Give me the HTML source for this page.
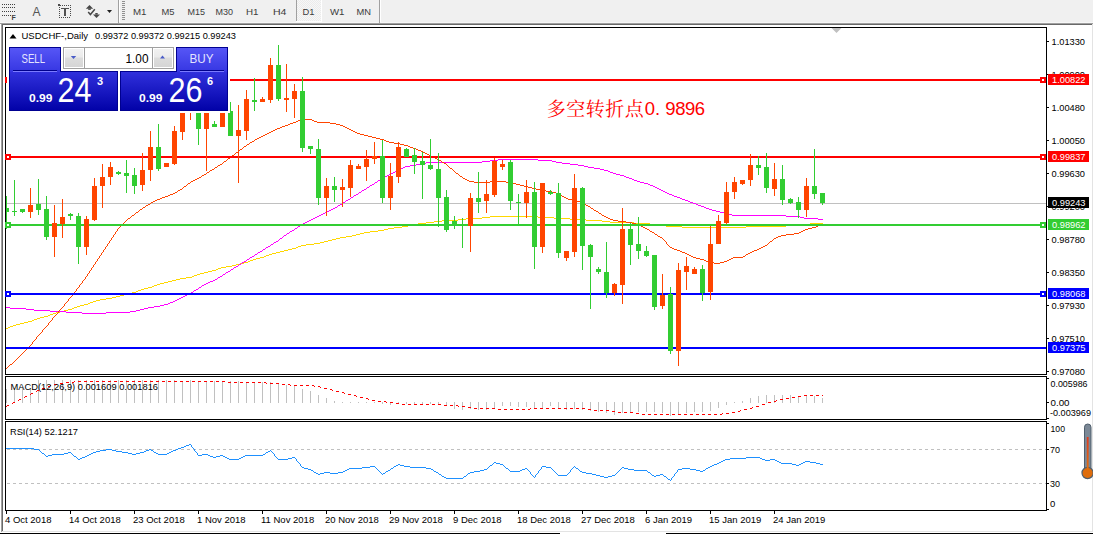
<!DOCTYPE html>
<html><head><meta charset="utf-8"><title>USDCHF Daily</title>
<style>html,body{margin:0;padding:0;background:#fff;width:1093px;height:534px;overflow:hidden}svg{display:block}</style>
</head><body>
<svg width="1093" height="534" viewBox="0 0 1093 534"><rect x="0" y="0" width="1093" height="23" fill="#f0f0f0"/><g fill="#404040"><rect x="2" y="4" width="1" height="1"/><rect x="4" y="4" width="1" height="1"/><rect x="6" y="4" width="1" height="1"/><rect x="8" y="4" width="1" height="1"/><rect x="10" y="4" width="1" height="1"/><rect x="12" y="4" width="1" height="1"/><rect x="14" y="4" width="1" height="1"/><rect x="2" y="7" width="1" height="1"/><rect x="4" y="7" width="1" height="1"/><rect x="6" y="7" width="1" height="1"/><rect x="8" y="7" width="1" height="1"/><rect x="10" y="7" width="1" height="1"/><rect x="12" y="7" width="1" height="1"/><rect x="14" y="7" width="1" height="1"/><rect x="2" y="11" width="1" height="1"/><rect x="4" y="11" width="1" height="1"/><rect x="6" y="11" width="1" height="1"/><rect x="8" y="11" width="1" height="1"/><rect x="10" y="11" width="1" height="1"/><rect x="12" y="11" width="1" height="1"/><rect x="14" y="11" width="1" height="1"/><rect x="2" y="15" width="1" height="1"/><rect x="4" y="15" width="1" height="1"/><rect x="6" y="15" width="1" height="1"/><rect x="8" y="15" width="1" height="1"/><rect x="10" y="15" width="1" height="1"/></g><text x="11.5" y="19.5" style="font-family:'Liberation Sans',Arial,sans-serif;font-size:7px;font-weight:bold" fill="#404040">F</text><text x="32.5" y="16" style="font-family:'Liberation Sans',Arial,sans-serif;font-size:12px" fill="#555">A</text><g fill="#4a4a4a"><rect x="58" y="4" width="2" height="2"/><rect x="60" y="5" width="1" height="1"/><rect x="62" y="5" width="1" height="1"/><rect x="64" y="5" width="1" height="1"/><rect x="66" y="5" width="1" height="1"/><rect x="68" y="5" width="1" height="1"/><rect x="70" y="5" width="1" height="1"/><rect x="59" y="7" width="1" height="1"/><rect x="70" y="7" width="1" height="1"/><rect x="59" y="9" width="1" height="1"/><rect x="70" y="9" width="1" height="1"/><rect x="59" y="11" width="1" height="1"/><rect x="70" y="11" width="1" height="1"/><rect x="59" y="13" width="1" height="1"/><rect x="70" y="13" width="1" height="1"/><rect x="59" y="15" width="1" height="1"/><rect x="70" y="15" width="1" height="1"/><rect x="59" y="17" width="1" height="1"/><rect x="61" y="17" width="1" height="1"/><rect x="63" y="17" width="1" height="1"/><rect x="65" y="17" width="1" height="1"/><rect x="67" y="17" width="1" height="1"/><rect x="69" y="17" width="1" height="1"/></g><rect x="61" y="8" width="8" height="1" fill="#505050"/><rect x="64" y="8" width="2" height="8" fill="#505050"/><g fill="#474747"><path d="M85.8,8.7 L89.5,5 L93.2,8.7 Z"/><rect x="88.2" y="8.5" width="2.6" height="1.4"/><rect x="95.3" y="13" width="2.4" height="1.6"/><path d="M93,14.4 L100,14.4 L96.5,18 Z"/><path d="M88.2,12 L90.4,14.5 L94.8,9.2" stroke="#474747" stroke-width="1.5" fill="none"/><path d="M107,10 L112,10 L109.5,13 Z" fill="#202020"/></g><rect x="118" y="0" width="1" height="23" fill="#a0a0a0"/><rect x="119" y="0" width="1" height="22" fill="#ffffff"/><g fill="#909090"><rect x="122" y="1" width="3" height="1"/><rect x="122" y="3" width="3" height="1"/><rect x="122" y="5" width="3" height="1"/><rect x="122" y="7" width="3" height="1"/><rect x="122" y="9" width="3" height="1"/><rect x="122" y="11" width="3" height="1"/><rect x="122" y="13" width="3" height="1"/><rect x="122" y="15" width="3" height="1"/><rect x="122" y="17" width="3" height="1"/><rect x="122" y="19" width="3" height="1"/></g><defs><pattern id="chk" width="2" height="2" patternUnits="userSpaceOnUse"><rect width="2" height="2" fill="#f7f7f7"/><rect width="1" height="1" fill="#ebebeb"/><rect x="1" y="1" width="1" height="1" fill="#ebebeb"/></pattern></defs><rect x="297" y="0" width="24" height="21" fill="url(#chk)"/><rect x="296" y="0" width="1" height="21" fill="#a0a0a0"/><rect x="296" y="21" width="26" height="1" fill="#ffffff"/><rect x="321" y="0" width="1" height="21" fill="#ffffff"/><text x="133.0" y="15" textLength="13.5" lengthAdjust="spacingAndGlyphs" style="font-family:'Liberation Sans',Arial,sans-serif;font-size:9.8px" fill="#3c3c3c">M1</text><text x="161.5" y="15" textLength="13.0" lengthAdjust="spacingAndGlyphs" style="font-family:'Liberation Sans',Arial,sans-serif;font-size:9.8px" fill="#3c3c3c">M5</text><text x="187.5" y="15" textLength="17.5" lengthAdjust="spacingAndGlyphs" style="font-family:'Liberation Sans',Arial,sans-serif;font-size:9.8px" fill="#3c3c3c">M15</text><text x="215.5" y="15" textLength="17.5" lengthAdjust="spacingAndGlyphs" style="font-family:'Liberation Sans',Arial,sans-serif;font-size:9.8px" fill="#3c3c3c">M30</text><text x="246.0" y="15" textLength="12.5" lengthAdjust="spacingAndGlyphs" style="font-family:'Liberation Sans',Arial,sans-serif;font-size:9.8px" fill="#3c3c3c">H1</text><text x="273.0" y="15" textLength="13.5" lengthAdjust="spacingAndGlyphs" style="font-family:'Liberation Sans',Arial,sans-serif;font-size:9.8px" fill="#3c3c3c">H4</text><text x="302.5" y="15" textLength="12.0" lengthAdjust="spacingAndGlyphs" style="font-family:'Liberation Sans',Arial,sans-serif;font-size:9.8px" fill="#3c3c3c">D1</text><text x="330.0" y="15" textLength="14.5" lengthAdjust="spacingAndGlyphs" style="font-family:'Liberation Sans',Arial,sans-serif;font-size:9.8px" fill="#3c3c3c">W1</text><text x="356.5" y="15" textLength="14.5" lengthAdjust="spacingAndGlyphs" style="font-family:'Liberation Sans',Arial,sans-serif;font-size:9.8px" fill="#3c3c3c">MN</text><rect x="379" y="0" width="1" height="23" fill="#a0a0a0"/><rect x="380" y="0" width="1" height="22" fill="#ffffff"/><rect x="0" y="23" width="1093" height="511" fill="#ffffff"/><rect x="0" y="22" width="1093" height="1" fill="#f7f7f7"/><rect x="0" y="23" width="1093" height="1" fill="#a0a0a0"/><rect x="118" y="22" width="1" height="1" fill="#a0a0a0"/><rect x="379" y="22" width="1" height="1" fill="#a0a0a0"/><rect x="2" y="24" width="1090" height="1" fill="#696969"/><rect x="1" y="23" width="1" height="509" fill="#a0a0a0"/><rect x="2" y="24" width="1" height="507" fill="#696969"/><rect x="1092" y="24" width="1" height="508" fill="#e3e3e3"/><rect x="2" y="531" width="1091" height="1" fill="#e3e3e3"/><rect x="0" y="533" width="560" height="1" fill="#000"/><rect x="666" y="533" width="427" height="1" fill="#000"/><rect x="5" y="27" width="1042" height="1" fill="#000"/><rect x="5" y="374" width="1042" height="1" fill="#000"/><rect x="5" y="27" width="1" height="348" fill="#000"/><rect x="1046" y="27" width="1" height="348" fill="#000"/><rect x="5" y="376" width="1042" height="1" fill="#000"/><rect x="5" y="419" width="1042" height="1" fill="#000"/><rect x="5" y="376" width="1" height="44" fill="#000"/><rect x="1046" y="376" width="1" height="44" fill="#000"/><rect x="5" y="421" width="1042" height="1" fill="#000"/><rect x="5" y="510" width="1042" height="1" fill="#000"/><rect x="5" y="421" width="1" height="90" fill="#000"/><rect x="1046" y="421" width="1" height="90" fill="#000"/><defs><clipPath id="cm"><rect x="6" y="28" width="1040" height="346"/></clipPath><clipPath id="cmacd"><rect x="6" y="377" width="1040" height="42"/></clipPath><clipPath id="crsi"><rect x="6" y="422" width="1040" height="88"/></clipPath></defs><g clip-path="url(#cm)"><path d="M831.5,28 L841.5,28 L836.5,33 Z" fill="#c0c0c0"/><rect x="6" y="203" width="1040" height="1" fill="#c0c0c0"/><path d="M490 216h48v1h-48zM482 217h8v1h-8zM538 217h16v1h-16zM466 218h16v1h-16zM554 218h16v1h-16zM458 219h8v1h-8zM570 219h16v1h-16zM442 220h16v1h-16zM586 220h16v1h-16zM434 221h8v1h-8zM602 221h8v1h-8zM426 222h8v1h-8zM610 222h24v1h-24zM418 223h8v1h-8zM634 223h16v1h-16zM810 223h13v1h-13zM412 224h6v1h-6zM650 224h8v1h-8zM802 224h8v1h-8zM408 225h4v1h-4zM658 225h8v1h-8zM786 225h16v1h-16zM402 226h6v1h-6zM666 226h16v1h-16zM746 226h40v1h-40zM394 227h8v1h-8zM682 227h64v1h-64zM388 228h6v1h-6zM384 229h4v1h-4zM378 230h6v1h-6zM370 231h8v1h-8zM364 232h6v1h-6zM360 233h4v1h-4zM356 234h4v1h-4zM352 235h4v1h-4zM346 236h6v1h-6zM340 237h6v1h-6zM336 238h4v1h-4zM332 239h4v1h-4zM328 240h4v1h-4zM324 241h4v1h-4zM320 242h4v1h-4zM314 243h6v1h-6zM306 244h8v1h-8zM301 245h5v1h-5zM298 246h3v1h-3zM296 247h2v1h-2zM292 248h4v1h-4zM288 249h4v1h-4zM284 250h4v1h-4zM280 251h4v1h-4zM276 252h4v1h-4zM272 253h4v1h-4zM269 254h3v1h-3zM266 255h3v1h-3zM264 256h2v1h-2zM260 257h4v1h-4zM256 258h4v1h-4zM253 259h3v1h-3zM250 260h3v1h-3zM248 261h2v1h-2zM244 262h4v1h-4zM240 263h4v1h-4zM236 264h4v1h-4zM232 265h4v1h-4zM226 266h6v1h-6zM221 267h5v1h-5zM218 268h3v1h-3zM216 269h2v1h-2zM212 270h4v1h-4zM208 271h4v1h-4zM204 272h4v1h-4zM200 273h4v1h-4zM197 274h3v1h-3zM194 275h3v1h-3zM192 276h2v1h-2zM186 277h6v1h-6zM180 278h6v1h-6zM176 279h4v1h-4zM172 280h4v1h-4zM168 281h4v1h-4zM164 282h4v1h-4zM160 283h4v1h-4zM157 284h3v1h-3zM154 285h3v1h-3zM152 286h2v1h-2zM148 287h4v1h-4zM144 288h4v1h-4zM141 289h3v1h-3zM138 290h3v1h-3zM136 291h2v1h-2zM132 292h4v1h-4zM128 293h4v1h-4zM124 294h4v1h-4zM120 295h4v1h-4zM116 296h4v1h-4zM112 297h4v1h-4zM106 298h6v1h-6zM100 299h6v1h-6zM96 300h4v1h-4zM93 301h3v1h-3zM90 302h3v1h-3zM88 303h2v1h-2zM84 304h4v1h-4zM80 305h4v1h-4zM77 306h3v1h-3zM74 307h3v1h-3zM72 308h2v1h-2zM68 309h4v1h-4zM64 310h4v1h-4zM60 311h4v1h-4zM56 312h4v1h-4zM53 313h3v1h-3zM50 314h3v1h-3zM48 315h2v1h-2zM44 316h4v1h-4zM40 317h4v1h-4zM37 318h3v1h-3zM34 319h3v1h-3zM32 320h2v1h-2zM28 321h4v1h-4zM24 322h4v1h-4zM20 323h4v1h-4zM16 324h4v1h-4zM13 325h3v1h-3zM10 326h3v1h-3zM8 327h2v1h-2zM6 328h2v1h-2z" fill="#ffd700"/><path d="M498 159h40v1h-40zM490 160h8v1h-8zM538 160h14v1h-14zM482 161h8v1h-8zM552 161h4v1h-4zM426 162h56v1h-56zM556 162h6v1h-6zM420 163h6v1h-6zM562 163h8v1h-8zM416 164h4v1h-4zM570 164h8v1h-8zM410 165h6v1h-6zM578 165h6v1h-6zM405 166h5v1h-5zM584 166h4v1h-4zM403 167h2v1h-2zM588 167h6v1h-6zM401 168h2v1h-2zM594 168h6v1h-6zM399 169h2v1h-2zM600 169h4v1h-4zM397 170h2v1h-2zM604 170h4v1h-4zM395 171h2v1h-2zM608 171h2v1h-2zM393 172h2v1h-2zM610 172h3v1h-3zM391 173h2v1h-2zM613 173h3v1h-3zM389 174h2v1h-2zM616 174h4v1h-4zM387 175h2v1h-2zM620 175h4v1h-4zM385 176h2v1h-2zM624 176h2v1h-2zM383 177h2v1h-2zM626 177h3v1h-3zM382 178h1v1h-1zM629 178h3v1h-3zM380 179h2v1h-2zM632 179h2v1h-2zM378 180h2v1h-2zM634 180h3v1h-3zM377 181h1v1h-1zM637 181h3v1h-3zM375 182h2v1h-2zM640 182h4v1h-4zM374 183h1v1h-1zM644 183h4v1h-4zM372 184h2v1h-2zM648 184h2v1h-2zM370 185h2v1h-2zM650 185h3v1h-3zM369 186h1v1h-1zM653 186h2v1h-2zM367 187h2v1h-2zM655 187h2v1h-2zM366 188h1v1h-1zM657 188h2v1h-2zM364 189h2v1h-2zM659 189h2v1h-2zM362 190h2v1h-2zM661 190h2v1h-2zM361 191h1v1h-1zM663 191h2v1h-2zM359 192h2v1h-2zM665 192h2v1h-2zM358 193h1v1h-1zM667 193h2v1h-2zM356 194h2v1h-2zM669 194h3v1h-3zM354 195h2v1h-2zM672 195h2v1h-2zM353 196h1v1h-1zM674 196h3v1h-3zM351 197h2v1h-2zM677 197h3v1h-3zM350 198h1v1h-1zM680 198h2v1h-2zM348 199h2v1h-2zM682 199h3v1h-3zM346 200h2v1h-2zM685 200h3v1h-3zM345 201h1v1h-1zM688 201h2v1h-2zM343 202h2v1h-2zM690 202h3v1h-3zM342 203h1v1h-1zM693 203h3v1h-3zM340 204h2v1h-2zM696 204h2v1h-2zM338 205h2v1h-2zM698 205h3v1h-3zM337 206h1v1h-1zM701 206h3v1h-3zM335 207h2v1h-2zM704 207h2v1h-2zM333 208h2v1h-2zM706 208h3v1h-3zM331 209h2v1h-2zM709 209h3v1h-3zM329 210h2v1h-2zM712 210h4v1h-4zM327 211h2v1h-2zM716 211h4v1h-4zM325 212h2v1h-2zM720 212h4v1h-4zM323 213h2v1h-2zM724 213h4v1h-4zM321 214h2v1h-2zM728 214h4v1h-4zM319 215h2v1h-2zM732 215h54v1h-54zM317 216h2v1h-2zM786 216h14v1h-14zM315 217h2v1h-2zM800 217h4v1h-4zM313 218h2v1h-2zM804 218h14v1h-14zM311 219h2v1h-2zM818 219h5v1h-5zM309 220h2v1h-2zM307 221h2v1h-2zM305 222h2v1h-2zM303 223h2v1h-2zM302 224h1v1h-1zM300 225h2v1h-2zM298 226h2v1h-2zM297 227h1v1h-1zM295 228h2v1h-2zM294 229h1v1h-1zM292 230h2v1h-2zM290 231h2v1h-2zM289 232h1v1h-1zM287 233h2v1h-2zM286 234h1v1h-1zM284 235h2v1h-2zM283 236h1v1h-1zM282 237h1v1h-1zM280 238h2v1h-2zM279 239h1v1h-1zM278 240h1v1h-1zM276 241h2v1h-2zM274 242h2v1h-2zM273 243h1v1h-1zM271 244h2v1h-2zM270 245h1v1h-1zM268 246h2v1h-2zM266 247h2v1h-2zM265 248h1v1h-1zM263 249h2v1h-2zM262 250h1v1h-1zM260 251h2v1h-2zM258 252h2v1h-2zM257 253h1v1h-1zM255 254h2v1h-2zM254 255h1v1h-1zM252 256h2v1h-2zM250 257h2v1h-2zM249 258h1v1h-1zM247 259h2v1h-2zM246 260h1v1h-1zM244 261h2v1h-2zM242 262h2v1h-2zM241 263h1v1h-1zM239 264h2v1h-2zM238 265h1v1h-1zM236 266h2v1h-2zM234 267h2v1h-2zM233 268h1v1h-1zM231 269h2v1h-2zM230 270h1v1h-1zM228 271h2v1h-2zM226 272h2v1h-2zM225 273h1v1h-1zM223 274h2v1h-2zM222 275h1v1h-1zM220 276h2v1h-2zM218 277h2v1h-2zM217 278h1v1h-1zM215 279h2v1h-2zM213 280h2v1h-2zM210 281h3v1h-3zM208 282h2v1h-2zM206 283h2v1h-2zM204 284h2v1h-2zM202 285h2v1h-2zM201 286h1v1h-1zM199 287h2v1h-2zM198 288h1v1h-1zM196 289h2v1h-2zM194 290h2v1h-2zM193 291h1v1h-1zM191 292h2v1h-2zM189 293h2v1h-2zM187 294h2v1h-2zM185 295h2v1h-2zM183 296h2v1h-2zM181 297h2v1h-2zM179 298h2v1h-2zM177 299h2v1h-2zM175 300h2v1h-2zM173 301h2v1h-2zM170 302h3v1h-3zM168 303h2v1h-2zM164 304h4v1h-4zM160 305h4v1h-4zM154 306h6v1h-6zM6 307h4v1h-4zM148 307h6v1h-6zM10 308h16v1h-16zM144 308h4v1h-4zM26 309h8v1h-8zM140 309h4v1h-4zM34 310h16v1h-16zM136 310h4v1h-4zM50 311h16v1h-16zM130 311h6v1h-6zM66 312h16v1h-16zM106 312h24v1h-24zM82 313h24v1h-24z" fill="#ff00ff"/><path d="M301 119h11v1h-11zM298 120h3v1h-3zM312 120h2v1h-2zM296 121h2v1h-2zM314 121h3v1h-3zM293 122h3v1h-3zM317 122h13v1h-13zM290 123h3v1h-3zM330 123h6v1h-6zM288 124h2v1h-2zM336 124h4v1h-4zM285 125h3v1h-3zM340 125h3v1h-3zM282 126h3v1h-3zM343 126h2v1h-2zM280 127h2v1h-2zM345 127h2v1h-2zM277 128h3v1h-3zM347 128h2v1h-2zM275 129h2v1h-2zM349 129h2v1h-2zM273 130h2v1h-2zM351 130h2v1h-2zM271 131h2v1h-2zM353 131h2v1h-2zM269 132h2v1h-2zM355 132h2v1h-2zM267 133h2v1h-2zM357 133h3v1h-3zM265 134h2v1h-2zM360 134h4v1h-4zM263 135h2v1h-2zM364 135h4v1h-4zM261 136h2v1h-2zM368 136h4v1h-4zM259 137h2v1h-2zM372 137h4v1h-4zM257 138h2v1h-2zM376 138h4v1h-4zM255 139h2v1h-2zM380 139h4v1h-4zM254 140h1v1h-1zM384 140h2v1h-2zM252 141h2v1h-2zM386 141h3v1h-3zM250 142h2v1h-2zM389 142h5v1h-5zM249 143h1v1h-1zM394 143h6v1h-6zM247 144h2v1h-2zM400 144h4v1h-4zM246 145h1v1h-1zM404 145h4v1h-4zM244 146h2v1h-2zM408 146h2v1h-2zM243 147h1v1h-1zM410 147h3v1h-3zM242 148h1v1h-1zM413 148h3v1h-3zM240 149h2v1h-2zM416 149h2v1h-2zM239 150h1v1h-1zM418 150h3v1h-3zM238 151h1v1h-1zM421 151h2v1h-2zM236 152h2v1h-2zM423 152h2v1h-2zM235 153h1v1h-1zM425 153h2v1h-2zM234 154h1v1h-1zM427 154h2v1h-2zM232 155h2v1h-2zM429 155h2v1h-2zM231 156h1v1h-1zM431 156h2v1h-2zM230 157h1v1h-1zM433 157h2v1h-2zM228 158h2v1h-2zM435 158h2v1h-2zM227 159h1v1h-1zM437 159h2v1h-2zM226 160h1v1h-1zM439 160h2v1h-2zM224 161h2v1h-2zM441 161h1v1h-1zM223 162h1v1h-1zM442 162h2v1h-2zM222 163h1v1h-1zM444 163h2v1h-2zM220 164h2v1h-2zM446 164h1v1h-1zM218 165h2v1h-2zM447 165h1v1h-1zM217 166h1v1h-1zM448 166h1v1h-1zM215 167h2v1h-2zM449 167h1v1h-1zM214 168h1v1h-1zM450 168h2v1h-2zM212 169h2v1h-2zM452 169h1v1h-1zM210 170h2v1h-2zM453 170h1v1h-1zM209 171h1v1h-1zM454 171h1v1h-1zM207 172h2v1h-2zM455 172h1v1h-1zM206 173h1v1h-1zM456 173h2v1h-2zM204 174h2v1h-2zM458 174h1v1h-1zM202 175h2v1h-2zM459 175h1v1h-1zM201 176h1v1h-1zM460 176h2v1h-2zM199 177h2v1h-2zM462 177h1v1h-1zM197 178h2v1h-2zM463 178h2v1h-2zM195 179h2v1h-2zM465 179h2v1h-2zM193 180h2v1h-2zM467 180h2v1h-2zM191 181h2v1h-2zM469 181h5v1h-5zM490 181h16v1h-16zM190 182h1v1h-1zM474 182h16v1h-16zM506 182h6v1h-6zM188 183h2v1h-2zM512 183h4v1h-4zM187 184h1v1h-1zM516 184h4v1h-4zM186 185h1v1h-1zM520 185h4v1h-4zM184 186h2v1h-2zM524 186h4v1h-4zM183 187h1v1h-1zM528 187h4v1h-4zM182 188h1v1h-1zM532 188h4v1h-4zM180 189h2v1h-2zM536 189h4v1h-4zM178 190h2v1h-2zM540 190h6v1h-6zM177 191h1v1h-1zM546 191h6v1h-6zM175 192h2v1h-2zM552 192h4v1h-4zM173 193h2v1h-2zM556 193h3v1h-3zM170 194h3v1h-3zM559 194h2v1h-2zM168 195h2v1h-2zM561 195h1v1h-1zM165 196h3v1h-3zM562 196h2v1h-2zM162 197h3v1h-3zM564 197h2v1h-2zM160 198h2v1h-2zM566 198h2v1h-2zM157 199h3v1h-3zM568 199h4v1h-4zM155 200h2v1h-2zM572 200h4v1h-4zM153 201h2v1h-2zM576 201h4v1h-4zM151 202h2v1h-2zM580 202h3v1h-3zM150 203h1v1h-1zM583 203h2v1h-2zM148 204h2v1h-2zM585 204h1v1h-1zM146 205h2v1h-2zM586 205h2v1h-2zM145 206h1v1h-1zM588 206h2v1h-2zM143 207h2v1h-2zM590 207h1v1h-1zM142 208h1v1h-1zM591 208h2v1h-2zM140 209h2v1h-2zM593 209h1v1h-1zM139 210h1v1h-1zM594 210h2v1h-2zM138 211h1v1h-1zM596 211h2v1h-2zM136 212h2v1h-2zM598 212h1v1h-1zM135 213h1v1h-1zM599 213h2v1h-2zM134 214h1v1h-1zM601 214h1v1h-1zM132 215h2v1h-2zM602 215h2v1h-2zM131 216h1v1h-1zM604 216h2v1h-2zM130 217h1v1h-1zM606 217h2v1h-2zM128 218h2v1h-2zM608 218h2v1h-2zM127 219h1v1h-1zM610 219h3v1h-3zM126 220h1v1h-1zM613 220h5v1h-5zM125 221h1v1h-1zM618 221h8v1h-8zM124 222h1v1h-1zM626 222h6v1h-6zM123 223h1v1h-1zM632 223h4v1h-4zM122 224h1v1h-1zM636 224h3v1h-3zM821 224h2v1h-2zM121 225h1v1h-1zM639 225h2v1h-2zM818 225h3v1h-3zM120 226h1v1h-1zM641 226h2v1h-2zM816 226h2v1h-2zM119 227h1v1h-1zM643 227h2v1h-2zM812 227h4v1h-4zM118 228h1v1h-1zM645 228h2v1h-2zM808 228h4v1h-4zM117 229h1v1h-1zM647 229h2v1h-2zM805 229h3v1h-3zM117 230h1v1h-1zM649 230h1v1h-1zM803 230h2v1h-2zM116 231h1v1h-1zM650 231h2v1h-2zM801 231h2v1h-2zM115 232h1v1h-1zM652 232h2v1h-2zM799 232h2v1h-2zM115 233h1v1h-1zM654 233h1v1h-1zM794 233h5v1h-5zM114 234h1v1h-1zM655 234h2v1h-2zM786 234h8v1h-8zM113 235h1v1h-1zM657 235h1v1h-1zM781 235h5v1h-5zM113 236h1v1h-1zM658 236h2v1h-2zM778 236h3v1h-3zM112 237h1v1h-1zM660 237h2v1h-2zM776 237h2v1h-2zM111 238h1v1h-1zM662 238h1v1h-1zM774 238h2v1h-2zM111 239h1v1h-1zM663 239h1v1h-1zM773 239h1v1h-1zM110 240h1v1h-1zM664 240h1v1h-1zM772 240h1v1h-1zM109 241h1v1h-1zM665 241h1v1h-1zM770 241h2v1h-2zM109 242h1v1h-1zM666 242h1v1h-1zM769 242h1v1h-1zM108 243h1v1h-1zM666 243h1v1h-1zM768 243h1v1h-1zM107 244h1v1h-1zM667 244h1v1h-1zM767 244h1v1h-1zM107 245h1v1h-1zM668 245h1v1h-1zM765 245h2v1h-2zM106 246h1v1h-1zM669 246h1v1h-1zM763 246h2v1h-2zM105 247h1v1h-1zM670 247h2v1h-2zM761 247h2v1h-2zM105 248h1v1h-1zM672 248h2v1h-2zM759 248h2v1h-2zM104 249h1v1h-1zM674 249h3v1h-3zM757 249h2v1h-2zM103 250h1v1h-1zM677 250h3v1h-3zM754 250h3v1h-3zM103 251h1v1h-1zM680 251h2v1h-2zM752 251h2v1h-2zM102 252h1v1h-1zM682 252h3v1h-3zM750 252h2v1h-2zM101 253h1v1h-1zM685 253h2v1h-2zM748 253h2v1h-2zM101 254h1v1h-1zM687 254h2v1h-2zM746 254h2v1h-2zM100 255h1v1h-1zM689 255h2v1h-2zM745 255h1v1h-1zM99 256h1v1h-1zM691 256h2v1h-2zM743 256h2v1h-2zM99 257h1v1h-1zM693 257h3v1h-3zM733 257h10v1h-10zM98 258h1v1h-1zM696 258h4v1h-4zM731 258h2v1h-2zM97 259h1v1h-1zM700 259h4v1h-4zM729 259h2v1h-2zM97 260h1v1h-1zM704 260h2v1h-2zM727 260h2v1h-2zM96 261h1v1h-1zM706 261h3v1h-3zM724 261h3v1h-3zM95 262h1v1h-1zM709 262h5v1h-5zM720 262h4v1h-4zM95 263h1v1h-1zM714 263h6v1h-6zM94 264h1v1h-1zM93 265h1v1h-1zM93 266h1v1h-1zM92 267h1v1h-1zM91 268h1v1h-1zM91 269h1v1h-1zM90 270h1v1h-1zM89 271h1v1h-1zM89 272h1v1h-1zM88 273h1v1h-1zM87 274h1v1h-1zM87 275h1v1h-1zM86 276h1v1h-1zM85 277h1v1h-1zM85 278h1v1h-1zM84 279h1v1h-1zM83 280h1v1h-1zM82 281h1v1h-1zM82 282h1v1h-1zM81 283h1v1h-1zM80 284h1v1h-1zM79 285h1v1h-1zM79 286h1v1h-1zM78 287h1v1h-1zM77 288h1v1h-1zM76 289h1v1h-1zM76 290h1v1h-1zM75 291h1v1h-1zM74 292h1v1h-1zM73 293h1v1h-1zM72 294h1v1h-1zM72 295h1v1h-1zM71 296h1v1h-1zM70 297h1v1h-1zM69 298h1v1h-1zM68 299h1v1h-1zM68 300h1v1h-1zM67 301h1v1h-1zM66 302h1v1h-1zM65 303h1v1h-1zM64 304h1v1h-1zM64 305h1v1h-1zM63 306h1v1h-1zM62 307h1v1h-1zM61 308h1v1h-1zM60 309h1v1h-1zM59 310h1v1h-1zM58 311h1v1h-1zM58 312h1v1h-1zM57 313h1v1h-1zM56 314h1v1h-1zM55 315h1v1h-1zM54 316h1v1h-1zM53 317h1v1h-1zM52 318h1v1h-1zM52 319h1v1h-1zM51 320h1v1h-1zM50 321h1v1h-1zM49 322h1v1h-1zM48 323h1v1h-1zM48 324h1v1h-1zM47 325h1v1h-1zM46 326h1v1h-1zM45 327h1v1h-1zM44 328h1v1h-1zM43 329h1v1h-1zM42 330h1v1h-1zM42 331h1v1h-1zM41 332h1v1h-1zM40 333h1v1h-1zM39 334h1v1h-1zM38 335h1v1h-1zM37 336h1v1h-1zM36 337h1v1h-1zM36 338h1v1h-1zM35 339h1v1h-1zM34 340h1v1h-1zM33 341h1v1h-1zM32 342h1v1h-1zM32 343h1v1h-1zM31 344h1v1h-1zM30 345h1v1h-1zM29 346h1v1h-1zM28 347h1v1h-1zM27 348h1v1h-1zM26 349h1v1h-1zM25 350h1v1h-1zM24 351h1v1h-1zM23 352h1v1h-1zM22 353h1v1h-1zM21 354h1v1h-1zM20 355h1v1h-1zM19 356h1v1h-1zM18 357h1v1h-1zM17 358h1v1h-1zM16 359h1v1h-1zM15 360h1v1h-1zM14 361h1v1h-1zM13 362h1v1h-1zM12 363h1v1h-1zM10 364h2v1h-2zM9 365h1v1h-1zM8 366h1v1h-1zM7 367h1v1h-1zM6 368h1v1h-1z" fill="#ff4500"/><rect x="6" y="79" width="1040" height="2" fill="#ff0000"/><rect x="6" y="156" width="1040" height="2" fill="#ff0000"/><rect x="6" y="224" width="1040" height="2" fill="#32cd32"/><rect x="6" y="293" width="1040" height="2" fill="#0000ff"/><rect x="6" y="347" width="1040" height="2" fill="#0000ff"/><g shape-rendering="crispEdges"><rect x="6" y="196" width="1" height="33" fill="#32cd32"/><rect x="4" y="208" width="5" height="4" fill="#32cd32"/><rect x="14" y="180" width="1" height="36" fill="#32cd32"/><rect x="12" y="211" width="5" height="1" fill="#32cd32"/><rect x="22" y="209" width="1" height="4" fill="#32cd32"/><rect x="20" y="209" width="5" height="3" fill="#32cd32"/><rect x="30" y="188" width="1" height="30" fill="#ff4500"/><rect x="28" y="205" width="5" height="7" fill="#ff4500"/><rect x="38" y="179" width="1" height="36" fill="#32cd32"/><rect x="36" y="204" width="5" height="6" fill="#32cd32"/><rect x="46" y="196" width="1" height="44" fill="#32cd32"/><rect x="44" y="209" width="5" height="28" fill="#32cd32"/><rect x="54" y="205" width="1" height="52" fill="#ff4500"/><rect x="52" y="223" width="5" height="14" fill="#ff4500"/><rect x="62" y="199" width="1" height="39" fill="#ff4500"/><rect x="60" y="217" width="5" height="7" fill="#ff4500"/><rect x="70" y="213" width="1" height="7" fill="#32cd32"/><rect x="68" y="214" width="5" height="2" fill="#32cd32"/><rect x="78" y="213" width="1" height="51" fill="#32cd32"/><rect x="76" y="216" width="5" height="31" fill="#32cd32"/><rect x="86" y="216" width="1" height="39" fill="#ff4500"/><rect x="84" y="219" width="5" height="28" fill="#ff4500"/><rect x="94" y="178" width="1" height="43" fill="#ff4500"/><rect x="92" y="186" width="5" height="34" fill="#ff4500"/><rect x="102" y="164" width="1" height="44" fill="#ff4500"/><rect x="100" y="177" width="5" height="9" fill="#ff4500"/><rect x="110" y="162" width="1" height="23" fill="#ff4500"/><rect x="108" y="167" width="5" height="10" fill="#ff4500"/><rect x="118" y="171" width="1" height="4" fill="#32cd32"/><rect x="116" y="172" width="5" height="2" fill="#32cd32"/><rect x="126" y="160" width="1" height="33" fill="#32cd32"/><rect x="124" y="173" width="5" height="3" fill="#32cd32"/><rect x="134" y="168" width="1" height="26" fill="#32cd32"/><rect x="132" y="175" width="5" height="11" fill="#32cd32"/><rect x="142" y="153" width="1" height="38" fill="#ff4500"/><rect x="140" y="170" width="5" height="15" fill="#ff4500"/><rect x="150" y="131" width="1" height="50" fill="#ff4500"/><rect x="148" y="147" width="5" height="23" fill="#ff4500"/><rect x="158" y="124" width="1" height="47" fill="#32cd32"/><rect x="156" y="147" width="5" height="22" fill="#32cd32"/><rect x="166" y="163" width="1" height="4" fill="#ff4500"/><rect x="164" y="163" width="5" height="4" fill="#ff4500"/><rect x="174" y="126" width="1" height="39" fill="#ff4500"/><rect x="172" y="131" width="5" height="33" fill="#ff4500"/><rect x="182" y="100" width="1" height="40" fill="#ff4500"/><rect x="180" y="104" width="5" height="28" fill="#ff4500"/><rect x="190" y="80" width="1" height="40" fill="#ff4500"/><rect x="188" y="90" width="5" height="10" fill="#ff4500"/><rect x="198" y="90" width="1" height="55" fill="#32cd32"/><rect x="196" y="95" width="5" height="34" fill="#32cd32"/><rect x="206" y="85" width="1" height="86" fill="#ff4500"/><rect x="204" y="95" width="5" height="34" fill="#ff4500"/><rect x="214" y="121" width="1" height="6" fill="#32cd32"/><rect x="212" y="124" width="5" height="3" fill="#32cd32"/><rect x="222" y="95" width="1" height="32" fill="#ff4500"/><rect x="220" y="100" width="5" height="27" fill="#ff4500"/><rect x="230" y="102" width="1" height="34" fill="#32cd32"/><rect x="228" y="111" width="5" height="25" fill="#32cd32"/><rect x="238" y="105" width="1" height="78" fill="#ff4500"/><rect x="236" y="130" width="5" height="6" fill="#ff4500"/><rect x="246" y="90" width="1" height="50" fill="#ff4500"/><rect x="244" y="99" width="5" height="32" fill="#ff4500"/><rect x="254" y="78" width="1" height="33" fill="#32cd32"/><rect x="252" y="100" width="5" height="2" fill="#32cd32"/><rect x="262" y="97" width="1" height="5" fill="#ff4500"/><rect x="260" y="99" width="5" height="3" fill="#ff4500"/><rect x="270" y="58" width="1" height="45" fill="#ff4500"/><rect x="268" y="65" width="5" height="35" fill="#ff4500"/><rect x="278" y="45" width="1" height="56" fill="#32cd32"/><rect x="276" y="65" width="5" height="34" fill="#32cd32"/><rect x="286" y="64" width="1" height="48" fill="#ff4500"/><rect x="284" y="98" width="5" height="2" fill="#ff4500"/><rect x="294" y="84" width="1" height="34" fill="#ff4500"/><rect x="292" y="91" width="5" height="8" fill="#ff4500"/><rect x="302" y="77" width="1" height="75" fill="#32cd32"/><rect x="300" y="91" width="5" height="57" fill="#32cd32"/><rect x="310" y="146" width="1" height="8" fill="#32cd32"/><rect x="308" y="146" width="5" height="3" fill="#32cd32"/><rect x="318" y="139" width="1" height="66" fill="#32cd32"/><rect x="316" y="149" width="5" height="49" fill="#32cd32"/><rect x="326" y="178" width="1" height="38" fill="#ff4500"/><rect x="324" y="186" width="5" height="12" fill="#ff4500"/><rect x="334" y="177" width="1" height="25" fill="#32cd32"/><rect x="332" y="186" width="5" height="4" fill="#32cd32"/><rect x="342" y="179" width="1" height="28" fill="#ff4500"/><rect x="340" y="187" width="5" height="3" fill="#ff4500"/><rect x="350" y="160" width="1" height="37" fill="#ff4500"/><rect x="348" y="165" width="5" height="23" fill="#ff4500"/><rect x="358" y="164" width="1" height="5" fill="#ff4500"/><rect x="356" y="166" width="5" height="3" fill="#ff4500"/><rect x="366" y="150" width="1" height="31" fill="#ff4500"/><rect x="364" y="159" width="5" height="8" fill="#ff4500"/><rect x="374" y="142" width="1" height="22" fill="#ff4500"/><rect x="372" y="156" width="5" height="3" fill="#ff4500"/><rect x="382" y="140" width="1" height="63" fill="#32cd32"/><rect x="380" y="156" width="5" height="42" fill="#32cd32"/><rect x="390" y="163" width="1" height="47" fill="#ff4500"/><rect x="388" y="176" width="5" height="22" fill="#ff4500"/><rect x="398" y="142" width="1" height="41" fill="#ff4500"/><rect x="396" y="147" width="5" height="30" fill="#ff4500"/><rect x="406" y="148" width="1" height="9" fill="#32cd32"/><rect x="404" y="149" width="5" height="8" fill="#32cd32"/><rect x="414" y="148" width="1" height="26" fill="#32cd32"/><rect x="412" y="155" width="5" height="7" fill="#32cd32"/><rect x="422" y="152" width="1" height="47" fill="#32cd32"/><rect x="420" y="161" width="5" height="4" fill="#32cd32"/><rect x="430" y="139" width="1" height="31" fill="#32cd32"/><rect x="428" y="165" width="5" height="4" fill="#32cd32"/><rect x="438" y="153" width="1" height="74" fill="#32cd32"/><rect x="436" y="169" width="5" height="29" fill="#32cd32"/><rect x="446" y="190" width="1" height="42" fill="#32cd32"/><rect x="444" y="197" width="5" height="33" fill="#32cd32"/><rect x="454" y="216" width="1" height="13" fill="#32cd32"/><rect x="452" y="221" width="5" height="4" fill="#32cd32"/><rect x="462" y="218" width="1" height="30" fill="#32cd32"/><rect x="460" y="224" width="5" height="1" fill="#32cd32"/><rect x="470" y="193" width="1" height="59" fill="#ff4500"/><rect x="468" y="198" width="5" height="28" fill="#ff4500"/><rect x="478" y="172" width="1" height="41" fill="#32cd32"/><rect x="476" y="198" width="5" height="4" fill="#32cd32"/><rect x="486" y="180" width="1" height="33" fill="#ff4500"/><rect x="484" y="194" width="5" height="7" fill="#ff4500"/><rect x="494" y="158" width="1" height="39" fill="#ff4500"/><rect x="492" y="161" width="5" height="34" fill="#ff4500"/><rect x="502" y="160" width="1" height="10" fill="#ff4500"/><rect x="500" y="164" width="5" height="3" fill="#ff4500"/><rect x="510" y="160" width="1" height="50" fill="#32cd32"/><rect x="508" y="162" width="5" height="39" fill="#32cd32"/><rect x="518" y="194" width="1" height="30" fill="#32cd32"/><rect x="516" y="202" width="5" height="1" fill="#32cd32"/><rect x="526" y="180" width="1" height="38" fill="#ff4500"/><rect x="524" y="192" width="5" height="11" fill="#ff4500"/><rect x="534" y="182" width="1" height="87" fill="#32cd32"/><rect x="532" y="192" width="5" height="55" fill="#32cd32"/><rect x="542" y="183" width="1" height="70" fill="#ff4500"/><rect x="540" y="183" width="5" height="64" fill="#ff4500"/><rect x="550" y="190" width="1" height="5" fill="#32cd32"/><rect x="548" y="192" width="5" height="2" fill="#32cd32"/><rect x="558" y="183" width="1" height="75" fill="#32cd32"/><rect x="556" y="193" width="5" height="60" fill="#32cd32"/><rect x="566" y="251" width="1" height="10" fill="#ff4500"/><rect x="564" y="251" width="5" height="7" fill="#ff4500"/><rect x="574" y="174" width="1" height="83" fill="#ff4500"/><rect x="572" y="188" width="5" height="64" fill="#ff4500"/><rect x="582" y="187" width="1" height="83" fill="#32cd32"/><rect x="580" y="188" width="5" height="58" fill="#32cd32"/><rect x="590" y="244" width="1" height="65" fill="#32cd32"/><rect x="588" y="245" width="5" height="12" fill="#32cd32"/><rect x="598" y="267" width="1" height="7" fill="#32cd32"/><rect x="596" y="269" width="5" height="3" fill="#32cd32"/><rect x="606" y="242" width="1" height="56" fill="#32cd32"/><rect x="604" y="272" width="5" height="21" fill="#32cd32"/><rect x="614" y="283" width="1" height="13" fill="#ff4500"/><rect x="612" y="284" width="5" height="9" fill="#ff4500"/><rect x="622" y="208" width="1" height="96" fill="#ff4500"/><rect x="620" y="229" width="5" height="56" fill="#ff4500"/><rect x="630" y="223" width="1" height="42" fill="#32cd32"/><rect x="628" y="229" width="5" height="16" fill="#32cd32"/><rect x="638" y="217" width="1" height="42" fill="#32cd32"/><rect x="636" y="244" width="5" height="7" fill="#32cd32"/><rect x="646" y="246" width="1" height="11" fill="#32cd32"/><rect x="644" y="251" width="5" height="5" fill="#32cd32"/><rect x="654" y="255" width="1" height="55" fill="#32cd32"/><rect x="652" y="255" width="5" height="52" fill="#32cd32"/><rect x="662" y="274" width="1" height="35" fill="#ff4500"/><rect x="660" y="295" width="5" height="11" fill="#ff4500"/><rect x="670" y="287" width="1" height="67" fill="#32cd32"/><rect x="668" y="294" width="5" height="57" fill="#32cd32"/><rect x="678" y="263" width="1" height="103" fill="#ff4500"/><rect x="676" y="270" width="5" height="81" fill="#ff4500"/><rect x="686" y="257" width="1" height="33" fill="#ff4500"/><rect x="684" y="266" width="5" height="6" fill="#ff4500"/><rect x="694" y="267" width="1" height="7" fill="#ff4500"/><rect x="692" y="269" width="5" height="5" fill="#ff4500"/><rect x="702" y="265" width="1" height="36" fill="#32cd32"/><rect x="700" y="269" width="5" height="24" fill="#32cd32"/><rect x="710" y="226" width="1" height="74" fill="#ff4500"/><rect x="708" y="244" width="5" height="48" fill="#ff4500"/><rect x="718" y="215" width="1" height="29" fill="#ff4500"/><rect x="716" y="221" width="5" height="23" fill="#ff4500"/><rect x="726" y="182" width="1" height="42" fill="#ff4500"/><rect x="724" y="192" width="5" height="31" fill="#ff4500"/><rect x="734" y="177" width="1" height="22" fill="#ff4500"/><rect x="732" y="182" width="5" height="10" fill="#ff4500"/><rect x="742" y="180" width="1" height="5" fill="#ff4500"/><rect x="740" y="180" width="5" height="4" fill="#ff4500"/><rect x="750" y="154" width="1" height="32" fill="#ff4500"/><rect x="748" y="165" width="5" height="15" fill="#ff4500"/><rect x="758" y="156" width="1" height="19" fill="#32cd32"/><rect x="756" y="165" width="5" height="3" fill="#32cd32"/><rect x="766" y="153" width="1" height="40" fill="#32cd32"/><rect x="764" y="167" width="5" height="21" fill="#32cd32"/><rect x="774" y="163" width="1" height="33" fill="#ff4500"/><rect x="772" y="179" width="5" height="10" fill="#ff4500"/><rect x="782" y="165" width="1" height="40" fill="#32cd32"/><rect x="780" y="179" width="5" height="21" fill="#32cd32"/><rect x="790" y="198" width="1" height="6" fill="#32cd32"/><rect x="788" y="199" width="5" height="4" fill="#32cd32"/><rect x="798" y="197" width="1" height="21" fill="#32cd32"/><rect x="796" y="202" width="5" height="8" fill="#32cd32"/><rect x="806" y="178" width="1" height="39" fill="#ff4500"/><rect x="804" y="186" width="5" height="24" fill="#ff4500"/><rect x="814" y="149" width="1" height="50" fill="#32cd32"/><rect x="812" y="186" width="5" height="8" fill="#32cd32"/><rect x="822" y="193" width="1" height="12" fill="#32cd32"/><rect x="820" y="193" width="5" height="10" fill="#32cd32"/></g></g><rect x="5" y="154" width="6" height="6" fill="#ff0000"/><rect x="7" y="156" width="2" height="2" fill="#fff"/><rect x="1040" y="154" width="6" height="6" fill="#ff0000"/><rect x="1042" y="156" width="2" height="2" fill="#fff"/><rect x="5" y="77" width="6" height="6" fill="#ff0000"/><rect x="7" y="79" width="2" height="2" fill="#fff"/><rect x="1040" y="77" width="6" height="6" fill="#ff0000"/><rect x="1042" y="79" width="2" height="2" fill="#fff"/><rect x="5" y="222" width="6" height="6" fill="#32cd32"/><rect x="7" y="224" width="2" height="2" fill="#fff"/><rect x="1040" y="222" width="6" height="6" fill="#32cd32"/><rect x="1042" y="224" width="2" height="2" fill="#fff"/><rect x="5" y="291" width="6" height="6" fill="#0000ff"/><rect x="7" y="293" width="2" height="2" fill="#fff"/><rect x="1040" y="291" width="6" height="6" fill="#0000ff"/><rect x="1042" y="293" width="2" height="2" fill="#fff"/><text y="116" style="font-family:'Liberation Serif','Noto Serif CJK SC',serif;font-size:19px" fill="#ff0000"><tspan x="546.8">多</tspan><tspan x="566.3">空</tspan><tspan x="585.8">转</tspan><tspan x="605.3">折</tspan><tspan x="624.8">点</tspan></text><text y="115" style="font-family:'Liberation Sans',Arial,sans-serif;font-size:18.5px" fill="#ff0000"><tspan x="644.7">0</tspan><tspan x="655">.</tspan><tspan x="665.3">9</tspan><tspan x="675.2">8</tspan><tspan x="685">9</tspan><tspan x="694.8">6</tspan></text><path d="M9.5,38.5 L16.5,38.5 L13,34 Z" fill="#000"/><text x="21.5" y="39" textLength="66.5" lengthAdjust="spacingAndGlyphs" style="font-family:'Liberation Sans',Arial,sans-serif;font-size:9.5px" fill="#000">USDCHF-,Daily</text><text x="95" y="39" textLength="141" lengthAdjust="spacingAndGlyphs" style="font-family:'Liberation Sans',Arial,sans-serif;font-size:9.5px" fill="#000">0.99372 0.99372 0.99215 0.99243</text><defs><linearGradient id="gtab" x1="0" y1="0" x2="0" y2="1"><stop offset="0" stop-color="#5656f6"/><stop offset="1" stop-color="#3636e2"/></linearGradient><linearGradient id="gblk" x1="0" y1="0" x2="0" y2="1"><stop offset="0" stop-color="#3030dc"/><stop offset="1" stop-color="#0202a8"/></linearGradient><linearGradient id="gspin" x1="0" y1="0" x2="0" y2="1"><stop offset="0" stop-color="#f2f2f2"/><stop offset="0.45" stop-color="#ebebeb"/><stop offset="0.5" stop-color="#dddddd"/><stop offset="1" stop-color="#d5d5d5"/></linearGradient></defs><rect x="7" y="45" width="223" height="68" fill="#fff"/><path d="M9,47 H61 V71 H118 V111 H9 Z" fill="#000090"/><rect x="10" y="48" width="50" height="24" fill="url(#gtab)"/><rect x="10" y="72" width="107" height="38" fill="url(#gblk)"/><rect x="13" y="70" width="44" height="1" fill="#00008c"/><rect x="13" y="71" width="44" height="1" fill="#7b7bff"/><path d="M176,47 H228 V111 H120 V71 H176 Z" fill="#000090"/><rect x="177" y="48" width="50" height="24" fill="url(#gtab)"/><rect x="121" y="72" width="106" height="38" fill="url(#gblk)"/><rect x="180" y="70" width="44" height="1" fill="#00008c"/><rect x="180" y="71" width="44" height="1" fill="#7b7bff"/><rect x="63" y="47" width="111" height="22" fill="#a0a0a0"/><rect x="64" y="48" width="109" height="20" fill="#fff"/><rect x="64.5" y="48.5" width="19" height="19" fill="url(#gspin)" stroke="#fff" stroke-width="1"/><rect x="84" y="48" width="1" height="20" fill="#a0a0a0"/><rect x="152" y="48" width="1" height="20" fill="#a0a0a0"/><rect x="153.5" y="48.5" width="19" height="19" fill="url(#gspin)" stroke="#fff" stroke-width="1"/><path d="M70.8,56 H76.2 L73.5,59 Z" fill="#4a5cc8"/><path d="M160,58.5 H165 L162.5,55.5 Z" fill="#4a5cc8"/><text x="125.5" y="63" textLength="23" lengthAdjust="spacingAndGlyphs" style="font-family:'Liberation Sans',Arial,sans-serif;font-size:13px" fill="#000">1.00</text><text x="21.5" y="63" textLength="23.5" lengthAdjust="spacingAndGlyphs" style="font-family:'Liberation Sans',Arial,sans-serif;font-size:12.5px" fill="#e4e4ff">SELL</text><text x="189.5" y="63" textLength="24" lengthAdjust="spacingAndGlyphs" style="font-family:'Liberation Sans',Arial,sans-serif;font-size:12.5px" fill="#e4e4ff">BUY</text><text x="29.0" y="102" textLength="23.5" lengthAdjust="spacingAndGlyphs" style="font-family:'Liberation Sans',Arial,sans-serif;font-size:11px;font-weight:bold" fill="#fff">0.99</text><text x="57.5" y="102" textLength="34" lengthAdjust="spacingAndGlyphs" style="font-family:'Liberation Sans',Arial,sans-serif;font-size:35px" fill="#fff">24</text><text x="97.0" y="85.2" style="font-family:'Liberation Sans',Arial,sans-serif;font-size:11px;font-weight:bold" fill="#fff">3</text><text x="139.0" y="102" textLength="23.5" lengthAdjust="spacingAndGlyphs" style="font-family:'Liberation Sans',Arial,sans-serif;font-size:11px;font-weight:bold" fill="#fff">0.99</text><text x="168.5" y="102" textLength="34" lengthAdjust="spacingAndGlyphs" style="font-family:'Liberation Sans',Arial,sans-serif;font-size:35px" fill="#fff">26</text><text x="207.0" y="85.2" style="font-family:'Liberation Sans',Arial,sans-serif;font-size:11px;font-weight:bold" fill="#fff">6</text><rect x="1047" y="41" width="2" height="1" fill="#000"/><text x="1051.5" y="45.0" textLength="33.5" lengthAdjust="spacingAndGlyphs" style="font-family:'Liberation Sans',Arial,sans-serif;font-size:9.5px" fill="#000">1.01330</text><rect x="1047" y="74" width="2" height="1" fill="#000"/><text x="1051.5" y="78.0" textLength="33.5" lengthAdjust="spacingAndGlyphs" style="font-family:'Liberation Sans',Arial,sans-serif;font-size:9.5px" fill="#000">1.00900</text><rect x="1047" y="107" width="2" height="1" fill="#000"/><text x="1051.5" y="111.0" textLength="33.5" lengthAdjust="spacingAndGlyphs" style="font-family:'Liberation Sans',Arial,sans-serif;font-size:9.5px" fill="#000">1.00480</text><rect x="1047" y="140" width="2" height="1" fill="#000"/><text x="1051.5" y="144.0" textLength="33.5" lengthAdjust="spacingAndGlyphs" style="font-family:'Liberation Sans',Arial,sans-serif;font-size:9.5px" fill="#000">1.00050</text><rect x="1047" y="173" width="2" height="1" fill="#000"/><text x="1051.5" y="177.0" textLength="33.5" lengthAdjust="spacingAndGlyphs" style="font-family:'Liberation Sans',Arial,sans-serif;font-size:9.5px" fill="#000">0.99630</text><rect x="1047" y="206" width="2" height="1" fill="#000"/><text x="1051.5" y="210.0" textLength="33.5" lengthAdjust="spacingAndGlyphs" style="font-family:'Liberation Sans',Arial,sans-serif;font-size:9.5px" fill="#000">0.99200</text><rect x="1047" y="239" width="2" height="1" fill="#000"/><text x="1051.5" y="243.0" textLength="33.5" lengthAdjust="spacingAndGlyphs" style="font-family:'Liberation Sans',Arial,sans-serif;font-size:9.5px" fill="#000">0.98780</text><rect x="1047" y="272" width="2" height="1" fill="#000"/><text x="1051.5" y="276.0" textLength="33.5" lengthAdjust="spacingAndGlyphs" style="font-family:'Liberation Sans',Arial,sans-serif;font-size:9.5px" fill="#000">0.98350</text><rect x="1047" y="305" width="2" height="1" fill="#000"/><text x="1051.5" y="309.0" textLength="33.5" lengthAdjust="spacingAndGlyphs" style="font-family:'Liberation Sans',Arial,sans-serif;font-size:9.5px" fill="#000">0.97930</text><rect x="1047" y="338" width="2" height="1" fill="#000"/><text x="1051.5" y="342.0" textLength="33.5" lengthAdjust="spacingAndGlyphs" style="font-family:'Liberation Sans',Arial,sans-serif;font-size:9.5px" fill="#000">0.97510</text><rect x="1047" y="371" width="2" height="1" fill="#000"/><text x="1051.5" y="375.0" textLength="33.5" lengthAdjust="spacingAndGlyphs" style="font-family:'Liberation Sans',Arial,sans-serif;font-size:9.5px" fill="#000">0.97080</text><rect x="1048" y="74" width="41" height="11" fill="#ff0000"/><text x="1052" y="83.0" textLength="33.5" lengthAdjust="spacingAndGlyphs" style="font-family:'Liberation Sans',Arial,sans-serif;font-size:9.5px" fill="#fff">1.00822</text><rect x="1048" y="151" width="41" height="11" fill="#ff0000"/><text x="1052" y="160.0" textLength="33.5" lengthAdjust="spacingAndGlyphs" style="font-family:'Liberation Sans',Arial,sans-serif;font-size:9.5px" fill="#fff">0.99837</text><rect x="1048" y="197" width="41" height="11" fill="#000000"/><text x="1052" y="206.0" textLength="33.5" lengthAdjust="spacingAndGlyphs" style="font-family:'Liberation Sans',Arial,sans-serif;font-size:9.5px" fill="#fff">0.99243</text><rect x="1048" y="219" width="41" height="11" fill="#32cd32"/><text x="1052" y="228.0" textLength="33.5" lengthAdjust="spacingAndGlyphs" style="font-family:'Liberation Sans',Arial,sans-serif;font-size:9.5px" fill="#fff">0.98962</text><rect x="1048" y="288" width="41" height="11" fill="#0000ff"/><text x="1052" y="297.0" textLength="33.5" lengthAdjust="spacingAndGlyphs" style="font-family:'Liberation Sans',Arial,sans-serif;font-size:9.5px" fill="#fff">0.98068</text><rect x="1048" y="342" width="41" height="11" fill="#0000ff"/><text x="1052" y="351.0" textLength="33.5" lengthAdjust="spacingAndGlyphs" style="font-family:'Liberation Sans',Arial,sans-serif;font-size:9.5px" fill="#fff">0.97375</text><g clip-path="url(#cmacd)"><g fill="#c0c0c0" shape-rendering="crispEdges"><rect x="6" y="389" width="1" height="14"/><rect x="14" y="388" width="1" height="15"/><rect x="22" y="388" width="1" height="15"/><rect x="30" y="388" width="1" height="15"/><rect x="38" y="380" width="1" height="23"/><rect x="46" y="380" width="1" height="23"/><rect x="54" y="380" width="1" height="23"/><rect x="62" y="380" width="1" height="23"/><rect x="70" y="380" width="1" height="23"/><rect x="78" y="380" width="1" height="23"/><rect x="86" y="380" width="1" height="23"/><rect x="94" y="380" width="1" height="23"/><rect x="102" y="380" width="1" height="23"/><rect x="110" y="380" width="1" height="23"/><rect x="118" y="380" width="1" height="23"/><rect x="126" y="380" width="1" height="23"/><rect x="134" y="380" width="1" height="23"/><rect x="142" y="380" width="1" height="23"/><rect x="150" y="380" width="1" height="23"/><rect x="158" y="380" width="1" height="23"/><rect x="166" y="380" width="1" height="23"/><rect x="174" y="380" width="1" height="23"/><rect x="182" y="382" width="1" height="21"/><rect x="190" y="380" width="1" height="23"/><rect x="198" y="381" width="1" height="22"/><rect x="206" y="381" width="1" height="22"/><rect x="214" y="381" width="1" height="22"/><rect x="222" y="381" width="1" height="22"/><rect x="230" y="381" width="1" height="22"/><rect x="238" y="381" width="1" height="22"/><rect x="246" y="382" width="1" height="21"/><rect x="254" y="382" width="1" height="21"/><rect x="262" y="382" width="1" height="21"/><rect x="270" y="382" width="1" height="21"/><rect x="278" y="384" width="1" height="19"/><rect x="286" y="385" width="1" height="18"/><rect x="294" y="386" width="1" height="17"/><rect x="302" y="389" width="1" height="14"/><rect x="310" y="391" width="1" height="12"/><rect x="318" y="395" width="1" height="8"/><rect x="326" y="398" width="1" height="5"/><rect x="334" y="401" width="1" height="2"/><rect x="342" y="402" width="1" height="1"/><rect x="350" y="402" width="1" height="1"/><rect x="358" y="402" width="1" height="1"/><rect x="366" y="402" width="1" height="1"/><rect x="374" y="402" width="1" height="1"/><rect x="382" y="402" width="1" height="2"/><rect x="390" y="402" width="1" height="3"/><rect x="398" y="402" width="1" height="2"/><rect x="406" y="402" width="1" height="2"/><rect x="414" y="402" width="1" height="2"/><rect x="422" y="402" width="1" height="2"/><rect x="430" y="402" width="1" height="2"/><rect x="438" y="402" width="1" height="2"/><rect x="446" y="402" width="1" height="4"/><rect x="454" y="402" width="1" height="7"/><rect x="462" y="402" width="1" height="8"/><rect x="470" y="402" width="1" height="7"/><rect x="478" y="402" width="1" height="8"/><rect x="486" y="402" width="1" height="8"/><rect x="494" y="402" width="1" height="7"/><rect x="502" y="402" width="1" height="4"/><rect x="510" y="402" width="1" height="4"/><rect x="518" y="402" width="1" height="5"/><rect x="526" y="402" width="1" height="5"/><rect x="534" y="402" width="1" height="7"/><rect x="542" y="402" width="1" height="6"/><rect x="550" y="402" width="1" height="4"/><rect x="558" y="402" width="1" height="6"/><rect x="566" y="402" width="1" height="8"/><rect x="574" y="402" width="1" height="7"/><rect x="582" y="402" width="1" height="8"/><rect x="590" y="402" width="1" height="9"/><rect x="598" y="402" width="1" height="10"/><rect x="606" y="402" width="1" height="11"/><rect x="614" y="402" width="1" height="13"/><rect x="622" y="402" width="1" height="11"/><rect x="630" y="402" width="1" height="10"/><rect x="638" y="402" width="1" height="10"/><rect x="646" y="402" width="1" height="10"/><rect x="654" y="402" width="1" height="10"/><rect x="662" y="402" width="1" height="11"/><rect x="670" y="402" width="1" height="14"/><rect x="678" y="402" width="1" height="12"/><rect x="686" y="402" width="1" height="11"/><rect x="694" y="402" width="1" height="10"/><rect x="702" y="402" width="1" height="10"/><rect x="710" y="402" width="1" height="9"/><rect x="718" y="402" width="1" height="6"/><rect x="726" y="402" width="1" height="3"/><rect x="734" y="402" width="1" height="1"/><rect x="742" y="401" width="1" height="2"/><rect x="750" y="398" width="1" height="5"/><rect x="758" y="396" width="1" height="7"/><rect x="766" y="395" width="1" height="8"/><rect x="774" y="395" width="1" height="8"/><rect x="782" y="395" width="1" height="8"/><rect x="790" y="395" width="1" height="8"/><rect x="798" y="396" width="1" height="7"/><rect x="806" y="395" width="1" height="8"/><rect x="814" y="396" width="1" height="7"/><rect x="822" y="398" width="1" height="5"/></g><path d="M74 381h1v1h-1zM78 381h3v1h-3zM84 381h3v1h-3zM90 381h3v1h-3zM96 381h3v1h-3zM102 381h3v1h-3zM108 381h3v1h-3zM114 381h3v1h-3zM120 381h3v1h-3zM126 381h3v1h-3zM132 381h3v1h-3zM138 381h3v1h-3zM144 381h3v1h-3zM150 381h3v1h-3zM156 381h3v1h-3zM162 381h3v1h-3zM168 381h3v1h-3zM174 381h3v1h-3zM180 381h3v1h-3zM186 381h3v1h-3zM192 381h3v1h-3zM198 381h3v1h-3zM204 381h3v1h-3zM210 381h3v1h-3zM216 381h3v1h-3zM222 381h3v1h-3zM66 382h3v1h-3zM72 382h2v1h-2zM228 382h3v1h-3zM234 382h3v1h-3zM240 382h3v1h-3zM246 382h3v1h-3zM252 382h3v1h-3zM258 382h3v1h-3zM264 382h2v1h-2zM60 383h3v1h-3zM266 383h1v1h-1zM270 383h3v1h-3zM276 383h3v1h-3zM54 384h3v1h-3zM282 384h3v1h-3zM288 384h2v1h-2zM50 385h1v1h-1zM290 385h1v1h-1zM294 385h3v1h-3zM300 385h3v1h-3zM306 385h3v1h-3zM312 385h2v1h-2zM48 386h2v1h-2zM314 386h1v1h-1zM318 386h2v1h-2zM320 387h1v1h-1zM42 388h3v1h-3zM324 388h3v1h-3zM330 389h2v1h-2zM37 390h2v1h-2zM332 390h1v1h-1zM36 391h1v1h-1zM336 391h3v1h-3zM342 392h2v1h-2zM31 393h2v1h-2zM344 393h1v1h-1zM30 394h1v1h-1zM348 394h3v1h-3zM354 395h2v1h-2zM804 395h3v1h-3zM810 395h3v1h-3zM816 395h3v1h-3zM822 395h1v1h-1zM25 396h2v1h-2zM356 396h1v1h-1zM798 396h3v1h-3zM24 397h1v1h-1zM360 397h3v1h-3zM792 397h3v1h-3zM366 398h2v1h-2zM786 398h3v1h-3zM19 399h2v1h-2zM368 399h1v1h-1zM780 399h3v1h-3zM18 400h1v1h-1zM372 400h3v1h-3zM776 400h1v1h-1zM378 401h3v1h-3zM384 401h2v1h-2zM774 401h2v1h-2zM13 402h2v1h-2zM386 402h1v1h-1zM390 402h3v1h-3zM768 402h3v1h-3zM12 403h1v1h-1zM396 403h3v1h-3zM402 404h3v1h-3zM408 404h3v1h-3zM414 404h3v1h-3zM420 404h3v1h-3zM426 404h3v1h-3zM432 404h3v1h-3zM438 404h3v1h-3zM762 404h3v1h-3zM7 405h2v1h-2zM444 405h3v1h-3zM450 405h3v1h-3zM456 405h2v1h-2zM6 406h1v1h-1zM458 406h1v1h-1zM462 406h3v1h-3zM756 406h3v1h-3zM468 407h3v1h-3zM752 407h1v1h-1zM474 408h3v1h-3zM480 408h3v1h-3zM486 408h3v1h-3zM492 408h3v1h-3zM530 408h1v1h-1zM534 408h3v1h-3zM540 408h3v1h-3zM546 408h3v1h-3zM552 408h3v1h-3zM558 408h3v1h-3zM564 408h3v1h-3zM570 408h3v1h-3zM576 408h3v1h-3zM582 408h3v1h-3zM750 408h2v1h-2zM498 409h3v1h-3zM504 409h3v1h-3zM510 409h3v1h-3zM516 409h3v1h-3zM522 409h3v1h-3zM528 409h2v1h-2zM588 409h3v1h-3zM744 409h3v1h-3zM594 410h3v1h-3zM600 410h3v1h-3zM606 410h3v1h-3zM740 410h1v1h-1zM612 411h3v1h-3zM738 411h2v1h-2zM618 412h3v1h-3zM624 412h3v1h-3zM630 412h3v1h-3zM732 412h3v1h-3zM636 413h3v1h-3zM722 413h1v1h-1zM726 413h3v1h-3zM642 414h3v1h-3zM648 414h3v1h-3zM654 414h3v1h-3zM660 414h3v1h-3zM666 414h3v1h-3zM672 414h3v1h-3zM678 414h3v1h-3zM684 414h3v1h-3zM690 414h3v1h-3zM696 414h3v1h-3zM702 414h3v1h-3zM708 414h3v1h-3zM714 414h3v1h-3zM720 414h2v1h-2z" fill="#ff0000"/></g><text x="10.5" y="389.5" textLength="147.5" lengthAdjust="spacingAndGlyphs" style="font-family:'Liberation Sans',Arial,sans-serif;font-size:9.5px" fill="#000">MACD(12,26,9) 0.001609 0.001816</text><rect x="1047" y="378" width="2" height="1" fill="#000"/><rect x="1047" y="402" width="2" height="1" fill="#000"/><rect x="1047" y="418" width="2" height="1" fill="#000"/><text x="1050.5" y="387" textLength="37" lengthAdjust="spacingAndGlyphs" style="font-family:'Liberation Sans',Arial,sans-serif;font-size:9.5px" fill="#000">0.005986</text><text x="1050.5" y="405.5" textLength="19" lengthAdjust="spacingAndGlyphs" style="font-family:'Liberation Sans',Arial,sans-serif;font-size:9.5px" fill="#000">0.00</text><text x="1050" y="416" textLength="41" lengthAdjust="spacingAndGlyphs" style="font-family:'Liberation Sans',Arial,sans-serif;font-size:9.5px" fill="#000">-0.003969</text><g clip-path="url(#crsi)"><line x1="7" y1="449.5" x2="1046" y2="449.5" stroke="#c0c0c0" stroke-width="1" stroke-dasharray="3,3"/><line x1="7" y1="483.5" x2="1046" y2="483.5" stroke="#c0c0c0" stroke-width="1" stroke-dasharray="3,3"/><path d="M189 444h2v1h-2zM186 445h3v1h-3zM191 445h1v1h-1zM184 446h2v1h-2zM191 446h1v1h-1zM181 447h3v1h-3zM192 447h1v1h-1zM6 448h28v1h-28zM178 448h3v1h-3zM193 448h1v1h-1zM34 449h5v1h-5zM106 449h6v1h-6zM149 449h2v1h-2zM176 449h2v1h-2zM194 449h1v1h-1zM39 450h1v1h-1zM100 450h6v1h-6zM112 450h4v1h-4zM146 450h3v1h-3zM151 450h2v1h-2zM173 450h3v1h-3zM194 450h1v1h-1zM270 450h1v1h-1zM40 451h1v1h-1zM96 451h4v1h-4zM116 451h6v1h-6zM144 451h2v1h-2zM153 451h1v1h-1zM171 451h2v1h-2zM195 451h1v1h-1zM268 451h2v1h-2zM271 451h1v1h-1zM41 452h1v1h-1zM68 452h3v1h-3zM93 452h3v1h-3zM122 452h6v1h-6zM140 452h4v1h-4zM154 452h2v1h-2zM169 452h2v1h-2zM196 452h1v1h-1zM266 452h2v1h-2zM272 452h1v1h-1zM42 453h2v1h-2zM64 453h4v1h-4zM71 453h1v1h-1zM91 453h2v1h-2zM128 453h4v1h-4zM136 453h4v1h-4zM156 453h2v1h-2zM167 453h2v1h-2zM197 453h1v1h-1zM265 453h1v1h-1zM273 453h1v1h-1zM44 454h1v1h-1zM52 454h12v1h-12zM72 454h1v1h-1zM89 454h2v1h-2zM132 454h4v1h-4zM158 454h9v1h-9zM197 454h1v1h-1zM202 454h6v1h-6zM263 454h2v1h-2zM274 454h1v1h-1zM45 455h1v1h-1zM48 455h4v1h-4zM73 455h1v1h-1zM87 455h2v1h-2zM198 455h4v1h-4zM208 455h2v1h-2zM220 455h3v1h-3zM245 455h18v1h-18zM274 455h1v1h-1zM46 456h2v1h-2zM74 456h2v1h-2zM85 456h2v1h-2zM210 456h3v1h-3zM216 456h4v1h-4zM223 456h2v1h-2zM243 456h2v1h-2zM275 456h1v1h-1zM76 457h1v1h-1zM82 457h3v1h-3zM213 457h3v1h-3zM225 457h2v1h-2zM241 457h2v1h-2zM276 457h1v1h-1zM292 457h3v1h-3zM746 457h14v1h-14zM77 458h1v1h-1zM80 458h2v1h-2zM227 458h2v1h-2zM239 458h2v1h-2zM277 458h1v1h-1zM288 458h4v1h-4zM295 458h1v1h-1zM730 458h16v1h-16zM760 458h2v1h-2zM78 459h2v1h-2zM229 459h10v1h-10zM278 459h10v1h-10zM296 459h1v1h-1zM725 459h5v1h-5zM762 459h3v1h-3zM770 459h5v1h-5zM296 460h1v1h-1zM723 460h2v1h-2zM765 460h5v1h-5zM775 460h2v1h-2zM297 461h1v1h-1zM721 461h2v1h-2zM777 461h2v1h-2zM805 461h5v1h-5zM298 462h1v1h-1zM494 462h2v1h-2zM719 462h2v1h-2zM779 462h2v1h-2zM803 462h2v1h-2zM810 462h6v1h-6zM299 463h1v1h-1zM493 463h1v1h-1zM496 463h4v1h-4zM717 463h2v1h-2zM781 463h11v1h-11zM801 463h2v1h-2zM816 463h4v1h-4zM300 464h1v1h-1zM398 464h2v1h-2zM492 464h1v1h-1zM500 464h3v1h-3zM714 464h3v1h-3zM792 464h4v1h-4zM799 464h2v1h-2zM820 464h3v1h-3zM300 465h1v1h-1zM396 465h2v1h-2zM400 465h4v1h-4zM490 465h2v1h-2zM503 465h1v1h-1zM712 465h2v1h-2zM796 465h3v1h-3zM301 466h1v1h-1zM370 466h5v1h-5zM394 466h2v1h-2zM404 466h6v1h-6zM489 466h1v1h-1zM504 466h1v1h-1zM542 466h4v1h-4zM574 466h1v1h-1zM710 466h2v1h-2zM302 467h2v1h-2zM362 467h8v1h-8zM375 467h1v1h-1zM393 467h1v1h-1zM410 467h16v1h-16zM488 467h1v1h-1zM505 467h1v1h-1zM541 467h1v1h-1zM546 467h5v1h-5zM573 467h1v1h-1zM575 467h1v1h-1zM622 467h2v1h-2zM708 467h2v1h-2zM304 468h4v1h-4zM349 468h13v1h-13zM376 468h1v1h-1zM391 468h2v1h-2zM426 468h5v1h-5zM487 468h1v1h-1zM506 468h2v1h-2zM525 468h2v1h-2zM541 468h1v1h-1zM551 468h1v1h-1zM572 468h1v1h-1zM576 468h2v1h-2zM621 468h1v1h-1zM624 468h4v1h-4zM682 468h8v1h-8zM706 468h2v1h-2zM308 469h3v1h-3zM347 469h2v1h-2zM377 469h1v1h-1zM390 469h1v1h-1zM431 469h2v1h-2zM484 469h3v1h-3zM508 469h1v1h-1zM522 469h3v1h-3zM527 469h1v1h-1zM540 469h1v1h-1zM552 469h1v1h-1zM571 469h1v1h-1zM578 469h1v1h-1zM620 469h1v1h-1zM628 469h6v1h-6zM678 469h4v1h-4zM690 469h6v1h-6zM705 469h1v1h-1zM311 470h2v1h-2zM345 470h2v1h-2zM378 470h1v1h-1zM388 470h2v1h-2zM433 470h1v1h-1zM480 470h4v1h-4zM509 470h1v1h-1zM520 470h2v1h-2zM528 470h1v1h-1zM539 470h1v1h-1zM553 470h1v1h-1zM570 470h1v1h-1zM579 470h1v1h-1zM619 470h1v1h-1zM634 470h13v1h-13zM677 470h1v1h-1zM696 470h4v1h-4zM703 470h2v1h-2zM313 471h1v1h-1zM343 471h2v1h-2zM379 471h1v1h-1zM386 471h2v1h-2zM434 471h2v1h-2zM474 471h6v1h-6zM510 471h10v1h-10zM529 471h1v1h-1zM538 471h1v1h-1zM554 471h1v1h-1zM570 471h1v1h-1zM580 471h2v1h-2zM618 471h1v1h-1zM647 471h1v1h-1zM677 471h1v1h-1zM700 471h3v1h-3zM314 472h2v1h-2zM324 472h6v1h-6zM338 472h5v1h-5zM380 472h1v1h-1zM385 472h1v1h-1zM436 472h2v1h-2zM470 472h4v1h-4zM530 472h1v1h-1zM538 472h1v1h-1zM555 472h1v1h-1zM569 472h1v1h-1zM582 472h4v1h-4zM617 472h1v1h-1zM648 472h2v1h-2zM676 472h1v1h-1zM316 473h2v1h-2zM320 473h4v1h-4zM330 473h8v1h-8zM381 473h1v1h-1zM383 473h2v1h-2zM438 473h1v1h-1zM468 473h2v1h-2zM530 473h1v1h-1zM537 473h1v1h-1zM556 473h1v1h-1zM568 473h1v1h-1zM586 473h6v1h-6zM616 473h1v1h-1zM650 473h1v1h-1zM675 473h1v1h-1zM318 474h2v1h-2zM382 474h1v1h-1zM439 474h2v1h-2zM467 474h1v1h-1zM531 474h1v1h-1zM536 474h1v1h-1zM557 474h1v1h-1zM567 474h1v1h-1zM592 474h4v1h-4zM615 474h1v1h-1zM651 474h1v1h-1zM660 474h3v1h-3zM674 474h1v1h-1zM441 475h1v1h-1zM466 475h1v1h-1zM532 475h1v1h-1zM535 475h1v1h-1zM558 475h9v1h-9zM596 475h4v1h-4zM612 475h3v1h-3zM652 475h2v1h-2zM656 475h4v1h-4zM663 475h1v1h-1zM674 475h1v1h-1zM442 476h2v1h-2zM464 476h2v1h-2zM533 476h1v1h-1zM535 476h1v1h-1zM600 476h4v1h-4zM608 476h4v1h-4zM654 476h2v1h-2zM664 476h2v1h-2zM673 476h1v1h-1zM444 477h2v1h-2zM463 477h1v1h-1zM534 477h1v1h-1zM604 477h4v1h-4zM666 477h1v1h-1zM672 477h1v1h-1zM446 478h17v1h-17zM667 478h1v1h-1zM671 478h1v1h-1zM668 479h2v1h-2zM671 479h1v1h-1zM670 480h1v1h-1z" fill="#1e90ff"/></g><text x="10" y="435" textLength="68" lengthAdjust="spacingAndGlyphs" style="font-family:'Liberation Sans',Arial,sans-serif;font-size:9.5px" fill="#000">RSI(14) 52.1217</text><rect x="1047" y="423" width="2" height="1" fill="#000"/><rect x="1047" y="449" width="2" height="1" fill="#000"/><rect x="1047" y="483" width="2" height="1" fill="#000"/><rect x="1047" y="509" width="2" height="1" fill="#000"/><text x="1050.5" y="431.5" textLength="14.5" lengthAdjust="spacingAndGlyphs" style="font-family:'Liberation Sans',Arial,sans-serif;font-size:9.5px" fill="#000">100</text><text x="1050" y="452.5" textLength="10" lengthAdjust="spacingAndGlyphs" style="font-family:'Liberation Sans',Arial,sans-serif;font-size:9.5px" fill="#000">70</text><text x="1050" y="486.5" textLength="10" lengthAdjust="spacingAndGlyphs" style="font-family:'Liberation Sans',Arial,sans-serif;font-size:9.5px" fill="#000">30</text><text x="1050" y="506.5" style="font-family:'Liberation Sans',Arial,sans-serif;font-size:9.5px" fill="#000">0</text><defs><linearGradient id="gth" x1="0" y1="0" x2="0" y2="1"><stop offset="0" stop-color="#e03a1e"/><stop offset="1" stop-color="#e2700e"/></linearGradient></defs><rect x="1084.5" y="424" width="6.5" height="48" rx="3.2" fill="#7b8896" stroke="#4f5e6c" stroke-width="1"/><circle cx="1087.6" cy="473" r="5.6" fill="#df6d0c" stroke="#4f5e6c" stroke-width="1.2"/><rect x="1086.8" y="437" width="1.8" height="33" fill="url(#gth)"/><rect x="6" y="511" width="1" height="3" fill="#000"/><text x="5.0" y="523" style="font-family:'Liberation Sans',Arial,sans-serif;font-size:9.5px" fill="#000">4 Oct 2018</text><rect x="70" y="511" width="1" height="3" fill="#000"/><text x="69.0" y="523" style="font-family:'Liberation Sans',Arial,sans-serif;font-size:9.5px" fill="#000">14 Oct 2018</text><rect x="134" y="511" width="1" height="3" fill="#000"/><text x="133.0" y="523" style="font-family:'Liberation Sans',Arial,sans-serif;font-size:9.5px" fill="#000">23 Oct 2018</text><rect x="198" y="511" width="1" height="3" fill="#000"/><text x="197.0" y="523" style="font-family:'Liberation Sans',Arial,sans-serif;font-size:9.5px" fill="#000">1 Nov 2018</text><rect x="262" y="511" width="1" height="3" fill="#000"/><text x="261.0" y="523" style="font-family:'Liberation Sans',Arial,sans-serif;font-size:9.5px" fill="#000">11 Nov 2018</text><rect x="326" y="511" width="1" height="3" fill="#000"/><text x="325.0" y="523" style="font-family:'Liberation Sans',Arial,sans-serif;font-size:9.5px" fill="#000">20 Nov 2018</text><rect x="390" y="511" width="1" height="3" fill="#000"/><text x="389.0" y="523" style="font-family:'Liberation Sans',Arial,sans-serif;font-size:9.5px" fill="#000">29 Nov 2018</text><rect x="454" y="511" width="1" height="3" fill="#000"/><text x="453.0" y="523" style="font-family:'Liberation Sans',Arial,sans-serif;font-size:9.5px" fill="#000">9 Dec 2018</text><rect x="518" y="511" width="1" height="3" fill="#000"/><text x="517.0" y="523" style="font-family:'Liberation Sans',Arial,sans-serif;font-size:9.5px" fill="#000">18 Dec 2018</text><rect x="582" y="511" width="1" height="3" fill="#000"/><text x="581.0" y="523" style="font-family:'Liberation Sans',Arial,sans-serif;font-size:9.5px" fill="#000">27 Dec 2018</text><rect x="646" y="511" width="1" height="3" fill="#000"/><text x="645.0" y="523" style="font-family:'Liberation Sans',Arial,sans-serif;font-size:9.5px" fill="#000">6 Jan 2019</text><rect x="710" y="511" width="1" height="3" fill="#000"/><text x="709.0" y="523" style="font-family:'Liberation Sans',Arial,sans-serif;font-size:9.5px" fill="#000">15 Jan 2019</text><rect x="774" y="511" width="1" height="3" fill="#000"/><text x="773.0" y="523" style="font-family:'Liberation Sans',Arial,sans-serif;font-size:9.5px" fill="#000">24 Jan 2019</text></svg>
</body></html>
